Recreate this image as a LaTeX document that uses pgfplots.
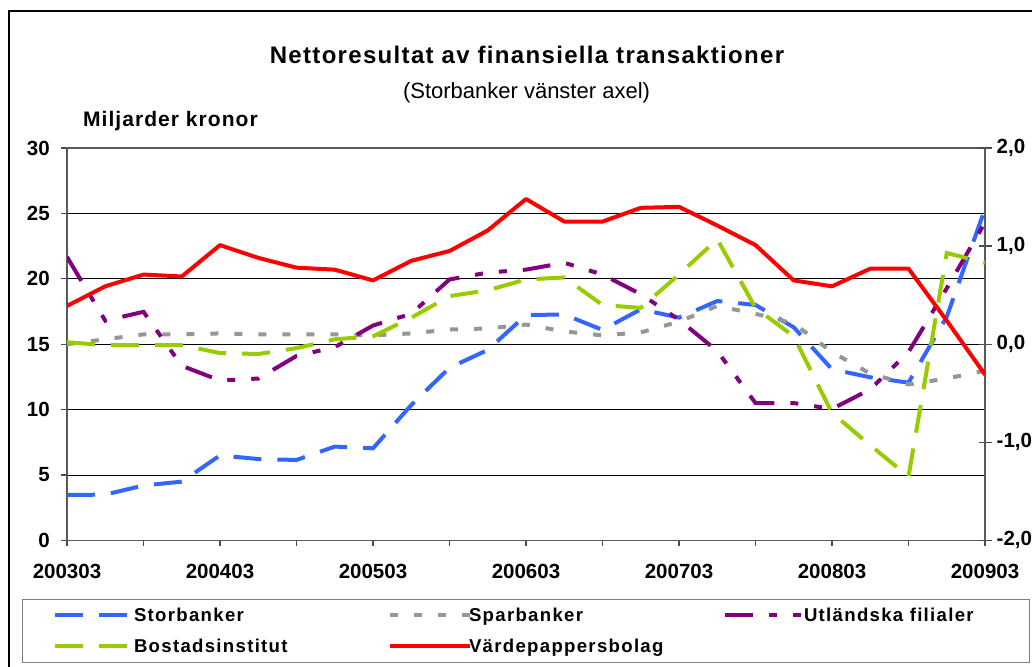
\documentclass[border=0pt]{standalone}
\usepackage{fontspec}
\setmainfont{Liberation Sans}
\usepackage{pgfplots}
\pgfplotsset{compat=1.18}
\usepackage{pgfplotstable}

\definecolor{cblue}{HTML}{3366FF}
\definecolor{cgrey}{HTML}{969696}
\definecolor{cpurple}{HTML}{800080}
\definecolor{cgreen}{HTML}{99CC00}
\definecolor{cred}{HTML}{FF0000}

% Storbanker, left axis (Mdr kr)
\pgfplotstableread{
x y
0 3.47
1 3.50
2 4.20
3 4.49
4 6.50
5 6.22
6 6.15
7 7.17
8 7.04
9 10.35
10 13.20
11 14.56
12 17.23
13 17.27
14 16.09
15 17.67
16 17.03
17 18.30
18 18.00
19 16.29
20 13.08
21 12.47
22 12.06
23 17.10
24 25.35
}\storbanker

% Sparbanker, right axis
\pgfplotstableread{
x y
0 0.00
1 0.05
2 0.10
3 0.10
4 0.11
5 0.10
6 0.10
7 0.10
8 0.09
9 0.11
10 0.15
11 0.16
12 0.20
13 0.13
14 0.09
15 0.12
16 0.23
17 0.39
18 0.31
19 0.21
20 -0.08
21 -0.30
22 -0.41
23 -0.35
24 -0.27
}\sparbanker

% Utlandska filialer, right axis
\pgfplotstableread{
x y
0 0.89
1 0.24
2 0.33
3 -0.22
4 -0.37
5 -0.35
6 -0.12
7 -0.03
8 0.19
9 0.31
10 0.66
11 0.73
12 0.76
13 0.83
14 0.71
15 0.51
16 0.25
17 -0.07
18 -0.60
19 -0.60
20 -0.66
21 -0.46
22 -0.08
23 0.57
24 1.24
}\utlandska

% Bostadsinstitut, right axis
\pgfplotstableread{
x y
0 0.02
1 -0.01
2 -0.01
3 -0.01
4 -0.09
5 -0.10
6 -0.04
7 0.05
8 0.08
9 0.27
10 0.49
11 0.55
12 0.66
13 0.68
14 0.40
15 0.37
16 0.71
17 1.07
18 0.37
19 0.08
20 -0.70
21 -1.03
22 -1.35
23 0.93
24 0.83
}\bostads

% Vardepappersbolag, right axis
\pgfplotstableread{
x y
0 0.39
1 0.59
2 0.71
3 0.69
4 1.01
5 0.88
6 0.78
7 0.76
8 0.65
9 0.85
10 0.95
11 1.16
12 1.48
13 1.25
14 1.25
15 1.39
16 1.40
17 1.21
18 1.01
19 0.65
20 0.59
21 0.77
22 0.77
23 0.24
24 -0.31
}\vardepapper

\pgfplotsset{
  sb/.style={cblue, line width=4pt, dash pattern=on 28pt off 16pt},
  sp/.style={cgrey, line width=4pt, dash pattern=on 8pt off 16pt},
  uf/.style={cpurple, line width=4pt, dash pattern=on 28pt off 16pt on 8pt off 16pt on 8pt off 16pt},
  bi/.style={cgreen, line width=4pt, dash pattern=on 28pt off 16pt},
  vp/.style={cred, line width=4pt, solid, line join=round},
}

\newcommand{\lgcell}[1]{\makebox[251pt][l]{\hspace{-3pt}#1}}

\begin{document}
\begin{tikzpicture}

\begin{axis}[
  at={(67pt,125.6pt)}, anchor=south west,
  width=918pt, height=392.4pt, scale only axis,
  xmin=0, xmax=24, ymin=0, ymax=30,
  xtick={0,4,...,24},
  xticklabels={200303,200403,200503,200603,200703,200803,200903},
  minor xtick={2,6,...,22},
  ytick={0,5,...,30},
  xtick pos=bottom, ytick pos=left,
  ymajorgrids, grid style={black, line width=0.9pt},
  tick align=outside, major tick length=6pt, minor tick length=6pt,
  every tick/.style={black!70, line width=1.2pt},
  axis line style={black!65, line width=1.6pt},
  /pgf/number format/assume math mode=true,
  tick label style={font=\fontsize{20.5}{24}\selectfont\bfseries, inner sep=0pt},
  yticklabel style={xshift=-11pt},
  xticklabel style={yshift=-18pt},
]
\addplot[sb] table[x=x,y=y] {\storbanker};
\end{axis}

\begin{axis}[
  at={(67pt,125.6pt)}, anchor=south west,
  width=918pt, height=392.4pt, scale only axis,
  xmin=0, xmax=24, ymin=-2, ymax=2,
  axis x line=none, axis y line*=right,
  ytick={-2,-1,0,1,2},
  yticklabels={{-2,0},{-1,0},{0,0},{1,0},{2,0}},
  tick align=center, major tick length=13pt,
  every tick/.style={black!70, line width=1.2pt},
  axis line style={black!65, line width=1.6pt},
  tick label style={font=\fontsize{20.5}{24}\selectfont\bfseries, inner sep=0pt},
  yticklabel style={anchor=west, xshift=5pt},
  legend columns=3,
  legend cell align=left,
  legend image code/.code={\draw[#1] (0pt,0pt) -- (80pt,0pt);},
  legend style={draw=none, fill=none, at={(axis description cs:-0.01525,-0.1715)}, anchor=north west,
    inner sep=0pt, outer sep=0pt, row sep=16pt, column sep=0pt,
    font=\fontsize{18.6}{22}\selectfont\bfseries\addfontfeatures{LetterSpace=7},
    nodes={inner sep=0pt}},
]
\addlegendimage{sb}
\addlegendentry{\lgcell{Storbanker}}
\addplot[sp] table[x=x,y=y] {\sparbanker};
\addlegendentry{\lgcell{Sparbanker}}
\addplot[uf] table[x=x,y=y] {\utlandska};
\addlegendentry{\lgcell{Utländska filialer}}
\addplot[bi] table[x=x,y=y] {\bostads};
\addlegendentry{\lgcell{Bostadsinstitut}}
\addplot[vp] table[x=x,y=y] {\vardepapper};
\addlegendentry{\lgcell{Värdepappersbolag}}
\end{axis}

\draw[black!50, line width=1pt] (22pt,3.3pt) rectangle (1029pt,66.7pt);
\draw[black, line width=1.3pt] (9pt,-20pt) rectangle (1060pt,655pt);

\node[anchor=base, font=\fontsize{24}{28}\selectfont\bfseries\addfontfeatures{LetterSpace=5.5}] at (527pt,602pt) {Nettoresultat av finansiella transaktioner};
\node[anchor=base, font=\fontsize{22}{26}\selectfont] at (526.5pt,567pt) {(Storbanker vänster axel)};
\node[anchor=base west, inner sep=0pt, font=\fontsize{21}{25}\selectfont\bfseries\addfontfeatures{LetterSpace=5}] at (83pt,539pt) {Miljarder kronor};

\pgfresetboundingbox
\path[use as bounding box] (0pt,0pt) rectangle (1032pt,666pt);
\end{tikzpicture}
\end{document}
